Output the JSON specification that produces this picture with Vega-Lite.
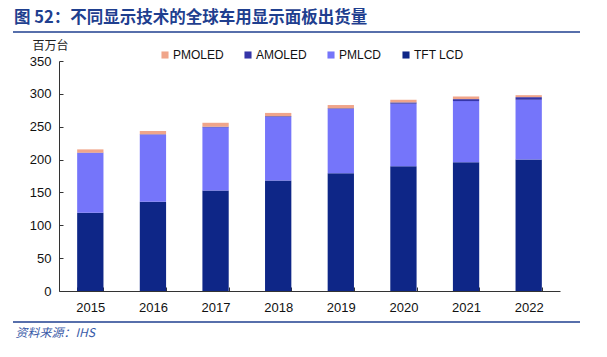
{
  "$schema": "https://vega.github.io/schema/vega-lite/v6.json",
  "autosize": "none",
  "width": 501,
  "height": 230,
  "padding": {"left": 59, "top": 61, "right": 47, "bottom": 66},
  "background": "white",
  "config": {"view": {"stroke": null}, "font": "Liberation Sans"},
  "title": {
    "text": "图 52：不同显示技术的全球车用显示面板出货量",
    "anchor": "start",
    "frame": "group",
    "dx": -45,
    "offset": 5,
    "font": "Noto Sans CJK SC",
    "fontSize": 16.5,
    "fontWeight": "bold",
    "color": "#1F3F8F"
  },
  "resolve": {"axis": {"y": "independent"}},
  "data": {
    "values": [
      {"year": "2015", "type": "TFT LCD", "value": 119, "o": 1},
      {"year": "2015", "type": "PMLCD", "value": 91, "o": 2},
      {"year": "2015", "type": "AMOLED", "value": 0.5, "o": 3},
      {"year": "2015", "type": "PMOLED", "value": 5, "o": 4},
      {"year": "2016", "type": "TFT LCD", "value": 136, "o": 1},
      {"year": "2016", "type": "PMLCD", "value": 102, "o": 2},
      {"year": "2016", "type": "AMOLED", "value": 0.5, "o": 3},
      {"year": "2016", "type": "PMOLED", "value": 5, "o": 4},
      {"year": "2017", "type": "TFT LCD", "value": 153, "o": 1},
      {"year": "2017", "type": "PMLCD", "value": 96, "o": 2},
      {"year": "2017", "type": "AMOLED", "value": 1, "o": 3},
      {"year": "2017", "type": "PMOLED", "value": 6, "o": 4},
      {"year": "2018", "type": "TFT LCD", "value": 168, "o": 1},
      {"year": "2018", "type": "PMLCD", "value": 97, "o": 2},
      {"year": "2018", "type": "AMOLED", "value": 1, "o": 3},
      {"year": "2018", "type": "PMOLED", "value": 5, "o": 4},
      {"year": "2019", "type": "TFT LCD", "value": 179, "o": 1},
      {"year": "2019", "type": "PMLCD", "value": 98, "o": 2},
      {"year": "2019", "type": "AMOLED", "value": 1, "o": 3},
      {"year": "2019", "type": "PMOLED", "value": 5, "o": 4},
      {"year": "2020", "type": "TFT LCD", "value": 190, "o": 1},
      {"year": "2020", "type": "PMLCD", "value": 95, "o": 2},
      {"year": "2020", "type": "AMOLED", "value": 2, "o": 3},
      {"year": "2020", "type": "PMOLED", "value": 4, "o": 4},
      {"year": "2021", "type": "TFT LCD", "value": 196, "o": 1},
      {"year": "2021", "type": "PMLCD", "value": 93, "o": 2},
      {"year": "2021", "type": "AMOLED", "value": 3, "o": 3},
      {"year": "2021", "type": "PMOLED", "value": 4, "o": 4},
      {"year": "2022", "type": "TFT LCD", "value": 200, "o": 1},
      {"year": "2022", "type": "PMLCD", "value": 91, "o": 2},
      {"year": "2022", "type": "AMOLED", "value": 4, "o": 3},
      {"year": "2022", "type": "PMOLED", "value": 3, "o": 4}
    ]
  },
  "layer": [
    {
      "mark": {"type": "bar"},
      "encoding": {
        "x": {
          "field": "year",
          "type": "nominal",
          "scale": {"paddingInner": 0.58, "paddingOuter": 0.29},
          "axis": {
            "labelAngle": 0,
            "labelFontSize": 13,
            "labelColor": "#111",
            "labelPadding": 14,
            "domainColor": "#333",
            "domainWidth": 1,
            "tickBand": "extent",
            "tickColor": "#333",
            "tickSize": -4,
            "title": "资料来源：IHS",
            "titleFont": "Noto Sans CJK SC",
            "titleFontStyle": "italic",
            "titleFontWeight": "normal",
            "titleFontSize": 12,
            "titleColor": "#3A5BA8",
            "titleAnchor": "start",
            "titleAlign": "left",
            "titleBaseline": "middle",
            "titleX": -44,
            "titleY": 41
          }
        },
        "y": {
          "field": "value",
          "type": "quantitative",
          "stack": "zero",
          "scale": {"domain": [0, 350]},
          "axis": {
            "values": [0, 50, 100, 150, 200, 250, 300, 350],
            "labelOverlap": false,
            "grid": false,
            "labelFontSize": 13,
            "labelColor": "#111",
            "labelPadding": 12,
            "domainColor": "#333",
            "tickColor": "#333",
            "tickSize": -4,
            "title": "百万台",
            "titleFont": "Noto Sans CJK SC",
            "titleFontWeight": "normal",
            "titleFontSize": 12,
            "titleColor": "#222",
            "titleAngle": 0,
            "titleAlign": "left",
            "titleBaseline": "middle",
            "titleX": -27,
            "titleY": -16
          }
        },
        "color": {
          "field": "type",
          "type": "nominal",
          "scale": {
            "domain": ["PMOLED", "AMOLED", "PMLCD", "TFT LCD"],
            "range": ["#F0A58A", "#3535A8", "#7575FA", "#0E2687"]
          },
          "legend": {
            "orient": "none",
            "legendX": 100,
            "legendY": -12,
            "direction": "horizontal",
            "title": null,
            "symbolType": "square",
            "symbolSize": 50,
            "symbolStrokeWidth": 0,
            "labelFontSize": 12,
            "labelColor": "#111",
            "labelOffset": 2,
            "columnPadding": 18
          }
        },
        "order": {"field": "o", "type": "quantitative"}
      }
    },
    {
      "data": {"values": [{"v": 394}, {"v": -47}]},
      "mark": {"type": "rule", "color": "#1F3F8F", "strokeWidth": 1.5},
      "encoding": {
        "y": {"field": "v", "type": "quantitative", "axis": null},
        "x": {"value": -46},
        "x2": {"value": 521}
      }
    }
  ]
}
